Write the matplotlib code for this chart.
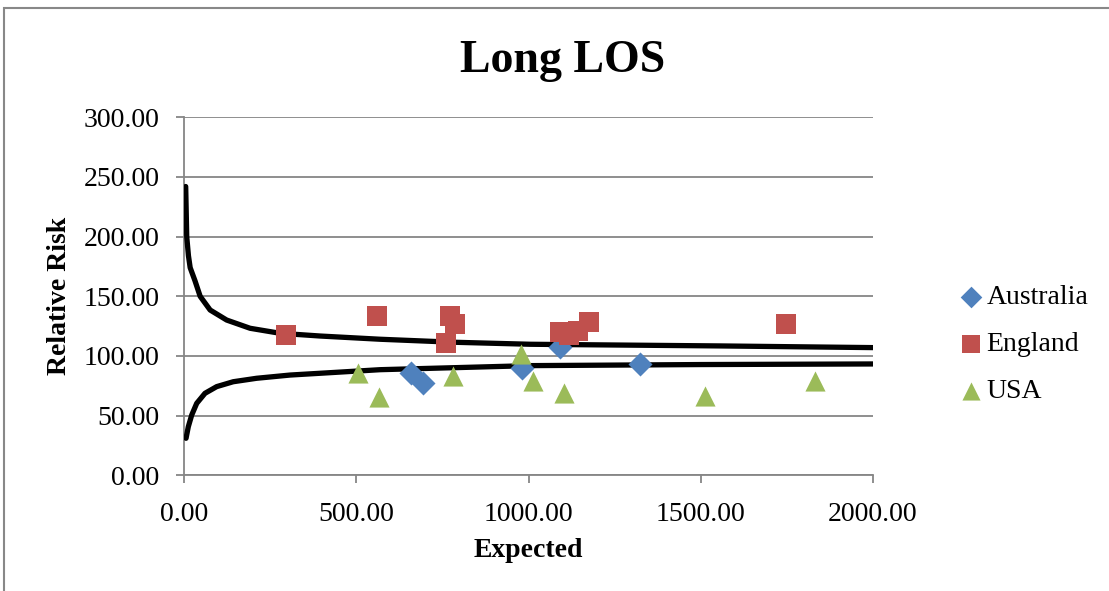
import matplotlib
matplotlib.use("Agg")
from matplotlib import pyplot as plt
from matplotlib.patches import Rectangle

plt.rcParams['font.family'] = ['Liberation Serif', 'DejaVu Serif']

# funnel limits
limit_x_upper = [4, 7, 12, 17, 31, 46, 75, 123, 191, 278, 395, 569, 782, 1005, 1557, 2000]
limit_upper = [242, 200, 184, 174, 163, 150, 138.5, 130.1, 123.2, 119, 116.7, 114, 111.5, 109.8, 108.4, 107]
limit_x_lower = [5, 11.6, 21.5, 36, 60, 94, 142, 210, 307, 424, 569, 1005, 1500, 2000]
limit_lower = [31, 40.7, 50.5, 60.3, 68.7, 74.3, 78.4, 81.3, 84, 86, 88.5, 91.9, 92.8, 93.3]

aus_x = [658, 692, 982, 1090, 1322]
aus_y = [85.5, 77.6, 89.7, 107.3, 93.0]

eng_x = [294, 561, 772, 787, 760, 1092, 1117, 1142, 1174, 1748]
eng_y = [117.6, 133.7, 133.6, 126.8, 110.6, 120.3, 117.3, 121.2, 128.7, 126.5]

usa_x = [503, 564, 780, 979, 1014, 1102, 1511, 1833]
usa_y = [85.5, 65.9, 83.2, 101.7, 79.3, 68.7, 66.5, 79.3]

xticks = [0, 500, 1000, 1500, 2000]
yticks = [0, 50, 100, 150, 200, 250, 300]

fig = plt.figure(figsize=(11.09, 5.91), dpi=100)
ax = fig.add_axes([0.1662, 0.1958, 0.6210, 0.6057])

ax.plot(limit_x_upper, limit_upper, color='black', lw=3.8, solid_capstyle='round',
        solid_joinstyle='round', zorder=3)
ax.plot(limit_x_lower, limit_lower, color='black', lw=3.8, solid_capstyle='round',
        solid_joinstyle='round', zorder=3)

ax.scatter(aus_x, aus_y, marker='D', s=150, color='#4F81BD', label='Australia', zorder=4, linewidths=0)
ax.scatter(eng_x, eng_y, marker='s', s=200, color='#C0504D', label='England', zorder=4, linewidths=0)
ax.scatter(usa_x, usa_y, marker='^', s=210, color='#9BBB59', label='USA', zorder=4, linewidths=0)

ax.set_xlim(0, 2000)
ax.set_ylim(0, 300)
ax.set_xticks(xticks)
ax.set_yticks(yticks)
ax.set_xticklabels(['%.2f' % v for v in xticks])
ax.set_yticklabels(['%.2f' % v for v in yticks])
ax.grid(axis='y', color='#868686', lw=1.3)
ax.set_axisbelow(True)
for side in ['top', 'right']:
    ax.spines[side].set_visible(False)
for side in ['left', 'bottom']:
    ax.spines[side].set_color('#868686')
    ax.spines[side].set_linewidth(1.3)
ax.tick_params(axis='both', colors='#868686', length=6, width=1.3, labelsize=20,
               labelcolor='black')
ax.tick_params(axis='y', pad=12)
ax.tick_params(axis='x', pad=13)

ax.set_xlabel('Expected', fontsize=20, fontweight='bold', labelpad=8)
ax.set_ylabel('Relative Risk', fontsize=20, fontweight='bold', labelpad=8)
fig.text(0.507, 0.878, 'Long LOS', fontsize=33, fontweight='bold', ha='center', va='baseline')

ax.legend(loc='center left', bbox_to_anchor=(1.1263, 0.365), frameon=False, fontsize=20,
          handlelength=0.8, handletextpad=0.15, labelspacing=0.78, markerscale=0.9,
          borderpad=0, borderaxespad=0)

# chart border (only top/left edges are in frame)
fig.patches.append(Rectangle((4 / 1109, -0.1), 1.2, (583 / 591) + 0.1, transform=fig.transFigure,
                             fill=False, edgecolor='#888888', lw=1.5))

fig.savefig('out.png', dpi=100)
